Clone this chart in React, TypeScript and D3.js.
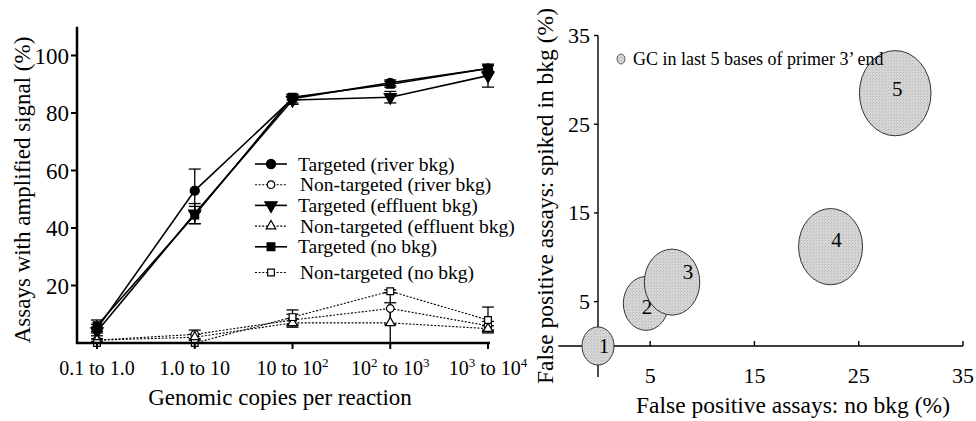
import React from 'react';
import * as d3 from 'd3';

// left panel: assays with amplified signal
const categories = ['0.1 to 1.0', '1.0 to 10', '10 to 10^2', '10^2 to 10^3', '10^3 to 10^4'];

const seriesNames = [
  'Targeted (river bkg)',
  'Non-targeted (river bkg)',
  'Targeted (effluent bkg)',
  'Non-targeted (effluent bkg)',
  'Targeted (no bkg)',
  'Non-targeted (no bkg)',
];
const targetedRiver = [5, 53, 85, 90.5, 95.5];
const nonTargetedRiver = [1, 3, 8, 12, 6];
const targetedEffluent = [4, 45, 84.5, 85.5, 93];
const nonTargetedEffluent = [1, 2, 7, 7, 5];
const targetedNoBkg = [6, 44.5, 85.5, 90, 95.5];
const nonTargetedNoBkg = [0, 0, 9, 18, 8];

const errTargetedRiver = [1.5, 7.5, 1.5, 1, 1];
const errNonTargetedRiver = [0.5, 1.5, 2, 5.5, 1.5];
const errTargetedEffluent = [1.5, 3.5, 1.5, 2, 4];
const errNonTargetedEffluent = [0.5, 1, 1.5, 7, 1];
const errTargetedNoBkg = [2, 3, 1, 1, 1];
const errNonTargetedNoBkg = [0, 0, 2.5, 0.5, 4.5];

const yTicksLeft = [20, 40, 60, 80, 100];

// right panel: false positives bubble chart
const bubbleLabels = ['1', '2', '3', '4', '5'];
const fpNoBkg = [0, 4.6, 7.1, 22.3, 28.5];
const fpSpiked = [0, 4.8, 7.2, 11.2, 28.5];
const gcCount = [1, 2, 3, 4, 5];
const ticksRight = [5, 15, 25, 35];

const FONT = 'Liberation Serif';

const series = [
  { name: seriesNames[0], values: targetedRiver, err: errTargetedRiver, shape: 'circle', filled: true },
  { name: seriesNames[1], values: nonTargetedRiver, err: errNonTargetedRiver, shape: 'circle', filled: false },
  { name: seriesNames[2], values: targetedEffluent, err: errTargetedEffluent, shape: 'triDown', filled: true },
  { name: seriesNames[3], values: nonTargetedEffluent, err: errNonTargetedEffluent, shape: 'triUp', filled: false },
  { name: seriesNames[4], values: targetedNoBkg, err: errTargetedNoBkg, shape: 'square', filled: true },
  { name: seriesNames[5], values: nonTargetedNoBkg, err: errNonTargetedNoBkg, shape: 'square', filled: false },
];

const symbolPath = (shape: string, filled: boolean) => {
  const type = shape === 'circle' ? d3.symbolCircle : shape === 'square' ? d3.symbolSquare : d3.symbolTriangle;
  const size = filled ? (shape === 'square' ? 60 : 65) : shape === 'triUp' ? 40 : 45;
  return d3.symbol().type(type).size(size)();
};

const Marker = ({ x, y, shape, filled }: any) => (
  <path
    d={symbolPath(shape, filled) as string}
    transform={`translate(${x},${y})${shape === 'triDown' ? ' rotate(180)' : ''}`}
    fill={filled ? '#000' : '#fff'}
    stroke="#000"
    strokeWidth={1.2}
  />
);

// "10^2 to 10^3" -> text with superscripts
const CatLabel = ({ label, x, y }: any) => {
  const parts = label.split(/(\^\d)/).filter((p: string) => p !== '');
  let raised = false;
  return (
    <text x={x} y={y} textAnchor="middle" fontFamily={FONT} fontSize={20}>
      {parts.map((p: string, i: number) => {
        if (p.startsWith('^')) {
          raised = true;
          return (
            <tspan key={i} dy={-8} fontSize={13}>
              {p.slice(1)}
            </tspan>
          );
        }
        const dy = raised ? 8 : 0;
        raised = false;
        return (
          <tspan key={i} dy={dy}>
            {p}
          </tspan>
        );
      })}
    </text>
  );
};

const LeftChart = () => {
  const x = d3.scalePoint().domain(categories).range([97, 488]);
  const y = d3.scaleLinear().domain([0, 100]).range([343, 55.5]);
  const line = d3
    .line<number>()
    .x((_, i) => x(categories[i]) as number)
    .y((d) => y(d));

  return (
    <g>
      {/* lines */}
      {series.map((s) => (
        <path
          key={s.name + 'l'}
          d={line(s.values) as string}
          fill="none"
          stroke="#000"
          strokeWidth={s.filled ? 1.6 : 1.1}
          strokeDasharray={s.filled ? undefined : '2,1.6'}
        />
      ))}
      {/* error bars */}
      {series.map((s) =>
        s.values.map((v, i) => {
          const e = s.err[i];
          if (!e) return null;
          const cx = x(categories[i]) as number;
          return (
            <g key={s.name + 'e' + i} stroke="#000" strokeWidth={1.3}>
              <line x1={cx} x2={cx} y1={y(v + e)} y2={y(Math.max(0, v - e))} />
              <line x1={cx - 6} x2={cx + 6} y1={y(v + e)} y2={y(v + e)} />
              <line x1={cx - 6} x2={cx + 6} y1={y(Math.max(0, v - e))} y2={y(Math.max(0, v - e))} />
            </g>
          );
        }),
      )}
      {/* markers */}
      {series.map((s) =>
        s.values.map((v, i) => (
          <Marker key={s.name + 'm' + i} x={x(categories[i])} y={y(v)} shape={s.shape} filled={s.filled} />
        )),
      )}

      {/* axes */}
      <line x1={77} x2={77} y1={y(110)} y2={y(0) + 1} stroke="#000" strokeWidth={2.5} />
      <line x1={76} x2={490} y1={y(0)} y2={y(0)} stroke="#000" strokeWidth={2.5} />
      {yTicksLeft.map((t) => (
        <g key={'yt' + t}>
          <line x1={71} x2={77} y1={y(t)} y2={y(t)} stroke="#000" strokeWidth={2} />
          <text x={69} y={y(t) + 8} textAnchor="end" fontFamily={FONT} fontSize={23}>
            {t}
          </text>
        </g>
      ))}
      {categories.map((c) => (
        <g key={'xt' + c}>
          <line x1={x(c)} x2={x(c)} y1={y(0)} y2={y(0) + 6} stroke="#000" strokeWidth={2} />
          <CatLabel label={c} x={x(c)} y={375} />
        </g>
      ))}
      <text x={280} y={405} textAnchor="middle" fontFamily={FONT} fontSize={23}>
        Genomic copies per reaction
      </text>
      <text transform={`translate(30,${190}) rotate(-90)`} textAnchor="middle" fontFamily={FONT} fontSize={23}>
        Assays with amplified signal (%)
      </text>

      {/* legend */}
      {series.map((s, i) => {
        const ly = 164 + i * 20.7 + (i === 5 ? 5 : 0);
        return (
          <g key={s.name + 'lg'}>
            <line
              x1={255}
              x2={287}
              y1={ly}
              y2={ly}
              stroke="#000"
              strokeWidth={s.filled ? 1.6 : 1.1}
              strokeDasharray={s.filled ? undefined : '2,1.6'}
            />
            <Marker x={271} y={ly} shape={s.shape} filled={s.filled} />
            <text x={s.filled ? 298 : 300} y={ly + 6.5} fontFamily={FONT} fontSize={19.5}>
              {s.name}
            </text>
          </g>
        );
      })}
    </g>
  );
};

const RightChart = () => {
  const x = d3.scaleLinear().domain([0, 35]).range([598, 963]);
  const y = d3.scaleLinear().domain([0, 35]).range([346, 35.5]);
  const r = d3.scaleSqrt().domain([0, 5]).range([0, 35.8]);
  const aspect = 1.19;
  const labelNudge = [
    [6, 0],
    [1, 4],
    [16, -10],
    [6, -7],
    [2, -4],
  ];

  return (
    <g>
      <defs>
        <pattern id="stipple" width="3" height="3" patternUnits="userSpaceOnUse">
          <rect width="3" height="3" fill="#d6d6d6" />
          <rect width="1" height="1" fill="#b8b8b8" />
          <rect x="2" y="1" width="1" height="1" fill="#c4c4c4" />
        </pattern>
      </defs>

      {/* axes */}
      <line x1={x(0)} x2={x(0)} y1={y(35)} y2={y(-3.5)} stroke="#000" strokeWidth={1.4} />
      <line x1={x(-3.8)} x2={x(35)} y1={y(0)} y2={y(0)} stroke="#000" strokeWidth={1.4} />
      {ticksRight.map((t) => (
        <g key={'ry' + t}>
          <line x1={x(0) - 4} x2={x(0)} y1={y(t)} y2={y(t)} stroke="#000" strokeWidth={1.4} />
          <text x={590} y={y(t) + 7.5} textAnchor="end" fontFamily={FONT} fontSize={22}>
            {t}
          </text>
        </g>
      ))}
      {ticksRight.map((t) => (
        <g key={'rx' + t}>
          <line x1={x(t)} x2={x(t)} y1={y(0) - 5} y2={y(0)} stroke="#000" strokeWidth={1.4} />
          <text x={x(t)} y={383} textAnchor="middle" fontFamily={FONT} fontSize={22}>
            {t}
          </text>
        </g>
      ))}

      {/* bubbles */}
      {gcCount.map((g, i) => (
        <g key={'b' + i}>
          <ellipse
            cx={x(fpNoBkg[i])}
            cy={y(fpSpiked[i])}
            rx={r(g)}
            ry={r(g) * aspect}
            fill="url(#stipple)"
            stroke="#333"
            strokeWidth={1}
          />
          <text
            x={x(fpNoBkg[i]) + labelNudge[i][0]}
            y={y(fpSpiked[i]) + labelNudge[i][1] + 7}
            textAnchor="middle"
            fontFamily={FONT}
            fontSize={21}
          >
            {bubbleLabels[i]}
          </text>
        </g>
      ))}

      {/* legend */}
      <ellipse cx={621} cy={59} rx={4} ry={5} fill="url(#stipple)" stroke="#444" strokeWidth={0.8} />
      <text x={633} y={65} fontFamily={FONT} fontSize={18}>
        GC in last 5 bases of primer 3’ end
      </text>

      <text x={793} y={413} textAnchor="middle" fontFamily={FONT} fontSize={23.5}>
        False positive assays: no bkg (%)
      </text>
      <text transform={`translate(553,196) rotate(-90)`} textAnchor="middle" fontFamily={FONT} fontSize={23.5}>
        False positive assays: spiked in bkg (%)
      </text>
    </g>
  );
};

export default function App() {
  return (
    <svg width={976} height={421} style={{ position: 'fixed', left: 0, top: 0, background: '#fff' }}>
      <rect width={976} height={421} fill="#fff" />
      <LeftChart />
      <RightChart />
    </svg>
  );
}
